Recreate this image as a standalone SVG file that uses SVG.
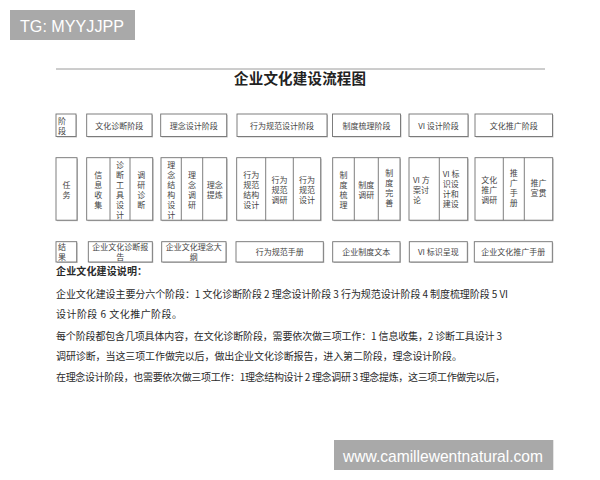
<svg xmlns="http://www.w3.org/2000/svg" width="600" height="480" viewBox="0 0 600 480">
<style>
.box{fill:#fff;stroke:#707070;stroke-width:0.9}
.sh{fill:#c4c4c4}
.div{stroke:#707070;stroke-width:0.9}
.t{font-family:"Noto Sans CJK SC","Liberation Serif",sans-serif;font-size:8px;fill:#444;text-anchor:middle;dominant-baseline:central}
.tl{font-family:"Noto Sans CJK SC","Liberation Serif",sans-serif;font-size:8px;fill:#444;text-anchor:start;dominant-baseline:central}
.p{font-family:"Noto Sans CJK SC",sans-serif;font-size:10px;fill:#2a2a2a;dominant-baseline:central}
.wm{fill:#a9a9a9}
.wmt{font-family:"Liberation Sans",Arial,sans-serif;fill:#fff;font-weight:300}
</style>
<rect width="600" height="480" fill="#fff"/>

<!-- watermark top-left -->
<g id="wm-top">
<rect class="wm" x="10" y="10" width="125" height="30"/>
<text class="wmt" x="20" y="31.5" font-size="17" textLength="104" lengthAdjust="spacingAndGlyphs">TG: MYYJJPP</text>
</g>

<!-- header -->
<line x1="56" y1="69" x2="545" y2="69" stroke="#9a9a9a" stroke-width="1"/>
<text x="300" y="77.5" font-family="Noto Sans CJK SC, sans-serif" font-size="14.5" font-weight="bold" fill="#222" text-anchor="middle" dominant-baseline="central" textLength="132">企业文化建设流程图</text>

<g id="connectors"/>

<!-- Row 1: stages -->
<g id="n-stage-label">
<rect class="sh" x="57" y="115" width="20" height="22.5"/><rect class="box" x="56" y="114" width="20" height="22.5"/>
<text class="tl" x="58" y="120" font-size="7.5">阶</text><text class="tl" x="58" y="130.5" font-size="7.5">段</text>
</g>
<g id="n-stage1"><rect class="sh" x="87.7" y="115" width="65.3" height="22.5"/><rect class="box" x="86.7" y="114" width="65.3" height="22.5"/><text class="t" x="119.3" y="125.3" font-size="8.5">文化诊断阶段</text></g>
<g id="n-stage2"><rect class="sh" x="161.7" y="115" width="66" height="22.5"/><rect class="box" x="160.7" y="114" width="66" height="22.5"/><text class="t" x="193.7" y="125.3" font-size="8.5">理念设计阶段</text></g>
<g id="n-stage3"><rect class="sh" x="238" y="115" width="90" height="22.5"/><rect class="box" x="237" y="114" width="90" height="22.5"/><text class="t" x="282" y="125.3" font-size="8.5">行为规范设计阶段</text></g>
<g id="n-stage4"><rect class="sh" x="333.5" y="115" width="68" height="22.5"/><rect class="box" x="332.5" y="114" width="68" height="22.5"/><text class="t" x="366.5" y="125.3" font-size="8.5">制度梳理阶段</text></g>
<g id="n-stage5"><rect class="sh" x="410" y="115" width="59" height="22.5"/><rect class="box" x="409" y="114" width="59" height="22.5"/><text class="t" x="438.5" y="125.3" font-size="8.5">VI  设计阶段</text></g>
<g id="n-stage6"><rect class="sh" x="476" y="115" width="77.5" height="22.5"/><rect class="box" x="475" y="114" width="77.5" height="22.5"/><text class="t" x="513.7" y="125.3" font-size="8.5">文化推广阶段</text></g>

<!-- Row 2: tasks -->
<g id="n-task-label">
<rect class="sh" x="57" y="158.7" width="21" height="62.5"/><rect class="box" x="56" y="157.7" width="21" height="62.5"/>
<text class="t" x="66.5" y="184.5">任</text><text class="t" x="66.5" y="194.5">务</text>
</g>
<g id="n-task1">
<rect class="sh" x="87.7" y="158.7" width="66" height="62.5"/><rect class="box" x="86.7" y="157.7" width="66" height="62.5"/>
<line class="div" x1="110" y1="157.7" x2="110" y2="220.2"/><line class="div" x1="130" y1="157.7" x2="130" y2="220.2"/>
<text class="t" x="98.3" y="174">信</text><text class="t" x="98.3" y="184">息</text><text class="t" x="98.3" y="194">收</text><text class="t" x="98.3" y="204">集</text>
<text class="t" x="120" y="164">诊</text><text class="t" x="120" y="174">断</text><text class="t" x="120" y="184">工</text><text class="t" x="120" y="194">具</text><text class="t" x="120" y="204">设</text><text class="t" x="120" y="214">计</text>
<text class="t" x="141.3" y="174">调</text><text class="t" x="141.3" y="184">研</text><text class="t" x="141.3" y="194">诊</text><text class="t" x="141.3" y="204">断</text>
</g>
<g id="n-task2">
<rect class="sh" x="162" y="158.7" width="65.7" height="62.5"/><rect class="box" x="161" y="157.7" width="65.7" height="62.5"/>
<line class="div" x1="181.3" y1="157.7" x2="181.3" y2="220.2"/><line class="div" x1="202.7" y1="157.7" x2="202.7" y2="220.2"/>
<text class="t" x="171.2" y="164">理</text><text class="t" x="171.2" y="174">念</text><text class="t" x="171.2" y="184">结</text><text class="t" x="171.2" y="194">构</text><text class="t" x="171.2" y="204">设</text><text class="t" x="171.2" y="214">计</text>
<text class="t" x="192" y="174">理</text><text class="t" x="192" y="184">念</text><text class="t" x="192" y="194">调</text><text class="t" x="192" y="204">研</text>
<text class="t" x="214.7" y="184">理念</text><text class="t" x="214.7" y="194">提炼</text>
</g>
<g id="n-task3">
<rect class="sh" x="237.7" y="158.7" width="84" height="62.5"/><rect class="box" x="236.7" y="157.7" width="84" height="62.5"/>
<line class="div" x1="265.7" y1="157.7" x2="265.7" y2="220.2"/><line class="div" x1="293.3" y1="157.7" x2="293.3" y2="220.2"/>
<text class="t" x="251.2" y="174">行为</text><text class="t" x="251.2" y="184">规范</text><text class="t" x="251.2" y="194">结构</text><text class="t" x="251.2" y="204">设计</text>
<text class="t" x="279.5" y="179">行为</text><text class="t" x="279.5" y="189">规范</text><text class="t" x="279.5" y="199">调研</text>
<text class="t" x="307" y="179">行为</text><text class="t" x="307" y="189">规范</text><text class="t" x="307" y="199">设计</text>
</g>
<g id="n-task4">
<rect class="sh" x="333.7" y="158.7" width="67.3" height="62.5"/><rect class="box" x="332.7" y="157.7" width="67.3" height="62.5"/>
<line class="div" x1="354.3" y1="157.7" x2="354.3" y2="220.2"/><line class="div" x1="378.3" y1="157.7" x2="378.3" y2="220.2"/>
<text class="t" x="343.5" y="174">制</text><text class="t" x="343.5" y="184">度</text><text class="t" x="343.5" y="194">梳</text><text class="t" x="343.5" y="204">理</text>
<text class="t" x="366.3" y="184">制度</text><text class="t" x="366.3" y="194">调研</text>
<text class="t" x="389.2" y="172">制</text><text class="t" x="389.2" y="182">度</text><text class="t" x="389.2" y="192">完</text><text class="t" x="389.2" y="202">善</text>
</g>
<g id="n-task5">
<rect class="sh" x="410" y="158.7" width="58.7" height="62.5"/><rect class="box" x="409" y="157.7" width="58.7" height="62.5"/>
<line class="div" x1="439.3" y1="157.7" x2="439.3" y2="220.2"/>
<text class="tl" x="413" y="179">VI 方</text><text class="tl" x="413" y="189">案讨</text><text class="tl" x="413" y="199">论</text>
<text class="tl" x="442.7" y="173">VI 标</text><text class="tl" x="442.7" y="183">识设</text><text class="tl" x="442.7" y="193">计和</text><text class="tl" x="442.7" y="203">建设</text>
</g>
<g id="n-task6">
<rect class="sh" x="476" y="158.7" width="77.7" height="62.5"/><rect class="box" x="475" y="157.7" width="77.7" height="62.5"/>
<line class="div" x1="503.3" y1="157.7" x2="503.3" y2="220.2"/><line class="div" x1="524.3" y1="157.7" x2="524.3" y2="220.2"/>
<text class="t" x="489.2" y="179">文化</text><text class="t" x="489.2" y="189">推广</text><text class="t" x="489.2" y="199">调研</text>
<text class="t" x="513.8" y="172">推</text><text class="t" x="513.8" y="182">广</text><text class="t" x="513.8" y="192">手</text><text class="t" x="513.8" y="202">册</text>
<text class="t" x="538.5" y="182">推广</text><text class="t" x="538.5" y="192">宣贯</text>
</g>

<!-- Row 3: results -->
<g id="n-result-label">
<rect class="sh" x="57" y="242.7" width="20.7" height="20.3"/><rect class="box" x="56" y="241.7" width="20.7" height="20.3"/>
<text class="tl" x="58" y="246.3" font-size="7">结</text><text class="tl" x="58" y="256.8" font-size="7">果</text>
</g>
<g id="n-result1"><rect class="sh" x="89.3" y="242.7" width="64" height="20.3"/><rect class="box" x="88.3" y="241.7" width="64" height="20.3"/><text class="t" x="120.3" y="246.3" font-size="7.5">企业文化诊断报</text><text class="t" x="120.3" y="256.8" font-size="7.5">告</text></g>
<g id="n-result2"><rect class="sh" x="162.7" y="242.7" width="64.3" height="20.3"/><rect class="box" x="161.7" y="241.7" width="64.3" height="20.3"/><text class="t" x="193.8" y="246.3" font-size="7.5">企业文化理念大</text><text class="t" x="193.8" y="256.8" font-size="7.5">纲</text></g>
<g id="n-result3"><rect class="sh" x="237" y="242.7" width="87.3" height="20.3"/><rect class="box" x="236" y="241.7" width="87.3" height="20.3"/><text class="t" x="279.7" y="251.9">行为规范手册</text></g>
<g id="n-result4"><rect class="sh" x="333.7" y="242.7" width="67.3" height="20.3"/><rect class="box" x="332.7" y="241.7" width="67.3" height="20.3"/><text class="t" x="366.3" y="251.9">企业制度文本</text></g>
<g id="n-result5"><rect class="sh" x="410.3" y="242.7" width="58" height="20.3"/><rect class="box" x="409.3" y="241.7" width="58" height="20.3"/><text class="t" x="438.3" y="251.9">VI  标识呈现</text></g>
<g id="n-result6"><rect class="sh" x="475.3" y="242.7" width="78" height="20.3"/><rect class="box" x="474.3" y="241.7" width="78" height="20.3"/><text class="t" x="513.3" y="251.9">企业文化推广手册</text></g>

<!-- description -->
<g id="description">
<text class="p" x="56" y="270.5" font-size="11.5" font-weight="bold" textLength="91">企业文化建设说明：</text>
<text class="p" x="56" y="293" textLength="452">企业文化建设主要分六个阶段：1 文化诊断阶段 2 理念设计阶段 3 行为规范设计阶段 4 制度梳理阶段 5 VI</text>
<text class="p" x="56" y="313" textLength="126">设计阶段  6 文化推广阶段。</text>
<text class="p" x="56" y="335" textLength="446">每个阶段都包含几项具体内容，在文化诊断阶段，需要依次做三项工作：1 信息收集，2 诊断工具设计  3</text>
<text class="p" x="56" y="355.7" textLength="406">调研诊断，当这三项工作做完以后，做出企业文化诊断报告，进入第二阶段，理念设计阶段。</text>
<text class="p" x="56" y="376.7" textLength="449">在理念设计阶段，也需要依次做三项工作：1理念结构设计  2 理念调研  3 理念提炼，这三项工作做完以后，</text>
</g>

<!-- watermark bottom-right -->
<g id="wm-bottom">
<rect class="wm" x="334" y="440" width="219.3" height="30"/>
<text class="wmt" x="343" y="461.5" font-size="17" textLength="200" lengthAdjust="spacingAndGlyphs">www.camillewentnatural.com</text>
</g>
</svg>
